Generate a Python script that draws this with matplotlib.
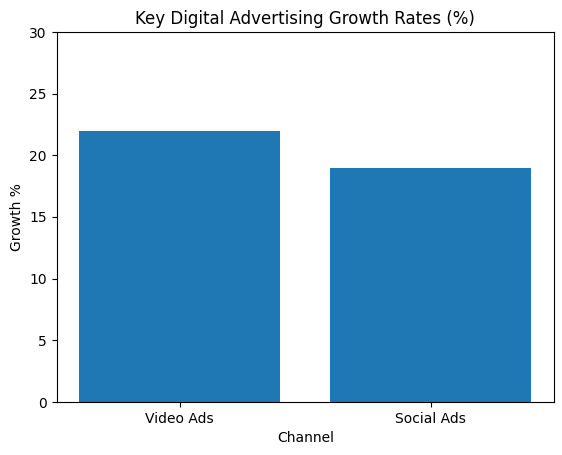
import matplotlib
matplotlib.use("Agg")
import matplotlib.pyplot as plt

channels = ["Video Ads", "Social Ads"]
growth = [22, 19]

fig = plt.figure(figsize=(5.62, 4.55), dpi=100)
L, R, T, B = 56.5, 554, 32, 402
ax = fig.add_axes([L/562, 1-B/455, (R-L)/562, (B-T)/455])
ax.bar(channels, growth, color="#1f77b4")
ax.set_ylim(0, 30)
ax.set_title("Key Digital Advertising Growth Rates (%)")
ax.set_xlabel("Channel")
ax.set_ylabel("Growth %")
fig.savefig("out.png", dpi=100)
